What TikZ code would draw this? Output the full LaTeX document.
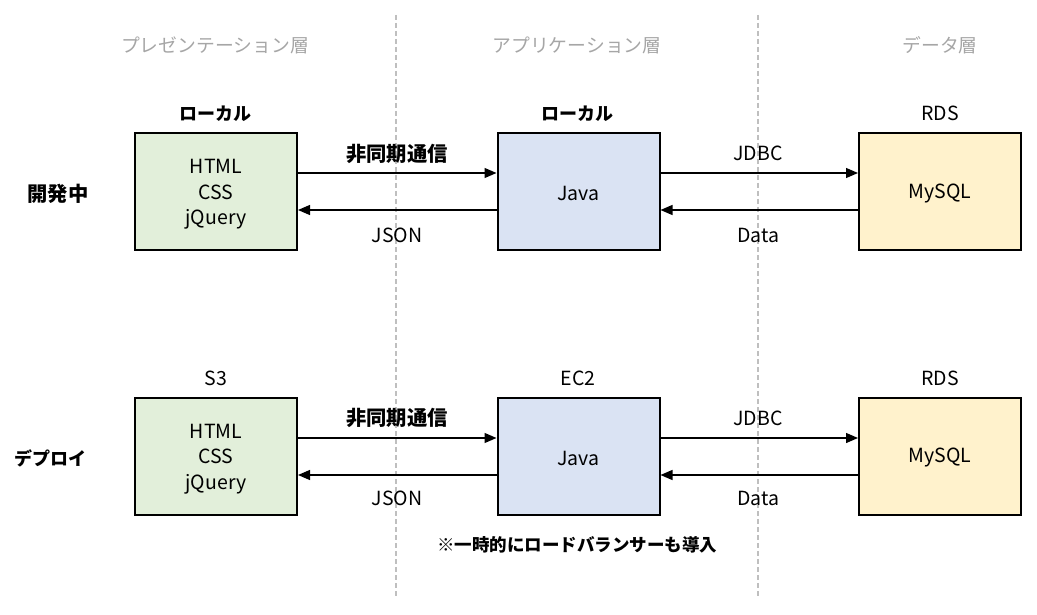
\documentclass[tikz,border=0pt]{standalone}
\usepackage{fontspec}
\setmainfont{Noto Sans CJK JP}
\usetikzlibrary{arrows.meta}
\definecolor{pgreen}{HTML}{E2EFDA}
\definecolor{pblue}{HTML}{DAE3F3}
\definecolor{pyellow}{HTML}{FFF2CC}
\definecolor{hgray}{HTML}{A6A6A6}
\definecolor{lgray}{HTML}{BFBFBF}
\begin{document}
\begin{tikzpicture}[x=1pt,y=-1pt,
  tier/.style={draw=black,line width=2pt,minimum width=162pt,minimum height=117pt,inner sep=0pt},
  intext/.style={align=center,inner sep=0pt,font=\fontsize{19.5}{25.5}\selectfont},
  head/.style={text=hgray,font=\fontsize{18.8}{22}\selectfont},
  lbl/.style={font=\fontsize{19.5}{22}\selectfont},
  blbl/.style={font=\bfseries\fontsize{20.3}{22}\selectfont},
  kbl/.style={font=\bfseries\fontsize{18}{22}\selectfont},
  flow/.style={line width=1.3pt,-{Triangle[length=12pt,width=10pt]}},
  sep/.style={draw=lgray,line width=1.2pt,dash pattern=on 5pt off 3pt}]
\useasboundingbox (0,0) rectangle (1037,615);
% separators
\coordinate (s1t) at (396,15); \coordinate (s1b) at (396,598);
\coordinate (s2t) at (758,15); \coordinate (s2b) at (758,598);
\draw[sep] (s1t) -- (s1b);
\draw[sep] (s2t) -- (s2b);
% headers
\node[head] (h1) at (215,45) {プレゼンテーション層};
\node[head] (h2) at (577,45) {アプリケーション層};
\node[head] (h3) at (940,45) {データ層};
% row labels
\node[blbl] (r1) at (58,194) {開発中};
\node[kbl] (r2) at (50,458) {デプロイ};
% top row
\node[tier,fill=pgreen] (p1) at (216,191.5) {};
\node[tier,fill=pblue] (a1) at (578.5,191.5) {};
\node[tier,fill=pyellow] (d1) at (940,191.5) {};
\node[intext] (p1x) at ([yshift=-3pt]p1.center) {HTML\\CSS\\jQuery};
\node[intext] (a1x) at ([yshift=-2pt]a1.center) {Java};
\node[intext] (d1x) at ([yshift=-2pt]d1.center) {MySQL};
\node[kbl] (p1t) at (215,114) {ローカル};
\node[kbl] (a1t) at (577,114) {ローカル};
\node[lbl] (d1t) at (940,113) {RDS};
% bottom row
\node[tier,fill=pgreen] (p2) at (216,456) {};
\node[tier,fill=pblue] (a2) at (578.5,456) {};
\node[tier,fill=pyellow] (d2) at (940,456) {};
\node[intext] (p2x) at ([yshift=-3pt]p2.center) {HTML\\CSS\\jQuery};
\node[intext] (a2x) at ([yshift=-2pt]a2.center) {Java};
\node[intext] (d2x) at ([yshift=-2pt]d2.center) {MySQL};
\node[lbl] (p2t) at (216,378) {S3};
\node[lbl] (a2t) at (578,378) {EC2};
\node[lbl] (d2t) at (940,378) {RDS};
% arrows top
\draw[flow] (p1.east|-0,173) -- (a1.west|-0,173);
\draw[flow] (a1.west|-0,210) -- (p1.east|-0,210);
\draw[flow] (a1.east|-0,173) -- (d1.west|-0,173);
\draw[flow] (d1.west|-0,210) -- (a1.east|-0,210);
\node[blbl] (m1) at (397,154) {非同期通信};
\node[lbl] (j1) at (397,235) {JSON};
\node[lbl] (b1) at (758,153) {JDBC};
\node[lbl] (e1) at (758,235) {Data};
% arrows bottom
\draw[flow] (p2.east|-0,438) -- (a2.west|-0,438);
\draw[flow] (a2.west|-0,475) -- (p2.east|-0,475);
\draw[flow] (a2.east|-0,438) -- (d2.west|-0,438);
\draw[flow] (d2.west|-0,475) -- (a2.east|-0,475);
\node[blbl] (m2) at (397,418) {非同期通信};
\node[lbl] (j2) at (397,498) {JSON};
\node[lbl] (b2) at (758,418) {JDBC};
\node[lbl] (e2) at (758,498) {Data};
\node[kbl,font=\bfseries\fontsize{17.5}{22}\selectfont] (note) at (577,545) {※一時的にロードバランサーも導入};
\end{tikzpicture}
\end{document}
